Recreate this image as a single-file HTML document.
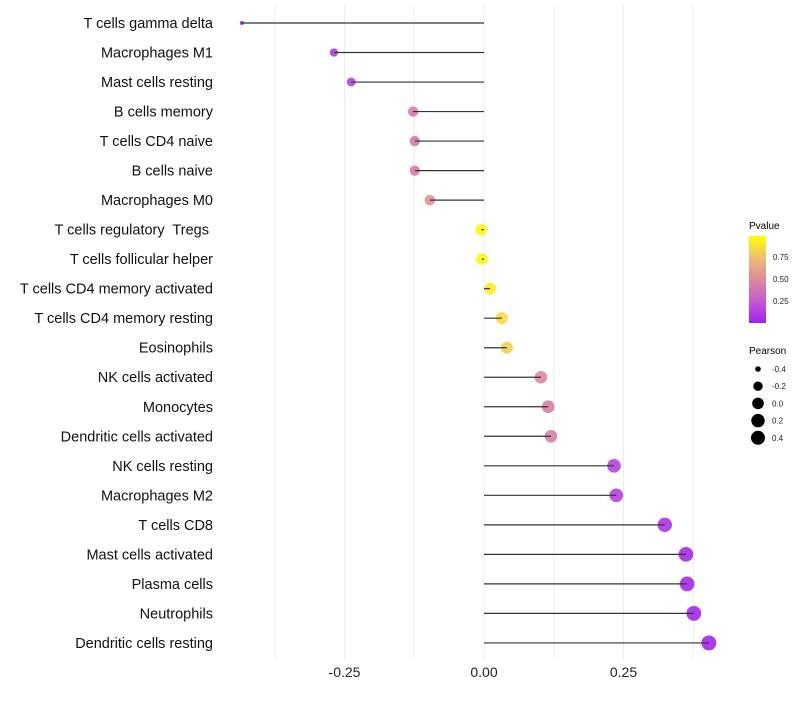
<!DOCTYPE html>
<html><head><meta charset="utf-8"><style>
body{margin:0;background:#fff;font-family:"Liberation Sans",sans-serif}
text{white-space:pre}
</style></head><body>
<svg id="chart" width="800" height="700" xmlns="http://www.w3.org/2000/svg">
<defs><linearGradient id="pg" x1="0" y1="1" x2="0" y2="0">
<stop offset="0" stop-color="#a020f0"/><stop offset="0.25" stop-color="#c65ad0"/><stop offset="0.5" stop-color="#dc8a9c"/><stop offset="0.75" stop-color="#efbd72"/><stop offset="1" stop-color="#ffff00"/>
</linearGradient></defs>
<g id="grid"></g><g id="marks"></g><g id="ylab"></g><g id="xlab"></g>
<g>
<text x="749" y="229" font-size="10" fill="#000">Pvalue</text>
<rect x="749" y="236" width="17" height="87" fill="url(#pg)"/>
<text x="773" y="260" font-size="8" fill="#222">0.75</text>
<text x="773" y="282" font-size="8" fill="#222">0.50</text>
<text x="773" y="304" font-size="8" fill="#222">0.25</text>
</g>
<g id="sizeleg">
<text x="749" y="354" font-size="10" fill="#000">Pearson</text>
</g>
</svg>
<script>
const categories=["T cells gamma delta","Macrophages M1","Mast cells resting","B cells memory","T cells CD4 naive","B cells naive","Macrophages M0","T cells regulatory  Tregs ","T cells follicular helper","T cells CD4 memory activated","T cells CD4 memory resting","Eosinophils","NK cells activated","Monocytes","Dendritic cells activated","NK cells resting","Macrophages M2","T cells CD8","Mast cells activated","Plasma cells","Neutrophils","Dendritic cells resting"];
const pearson=[-0.434,-0.269,-0.238,-0.127,-0.124,-0.124,-0.097,-0.005,-0.004,0.011,0.032,0.041,0.102,0.115,0.120,0.233,0.237,0.324,0.362,0.364,0.376,0.403];
const pvalues=[0.01,0.12,0.14,0.42,0.42,0.42,0.55,0.97,0.98,0.93,0.86,0.82,0.5,0.45,0.43,0.15,0.14,0.08,0.04,0.04,0.03,0.02];
const xTicks=[-0.25,0,0.25];
const xTickLabels=["-0.25","0.00","0.25"];
const sizeLegend=[-0.4,-0.2,0.0,0.2,0.4];
const NS="http://www.w3.org/2000/svg";
const X=v=>484+v*558;
const Y=i=>23+i*29.52;
const R=v=>1.5+6*Math.sqrt(Math.max(0,(v+0.44)/0.85));
function col(p){const st=[[0,[160,32,240]],[0.25,[198,90,208]],[0.5,[220,138,156]],[0.75,[239,189,114]],[1,[255,255,0]]];
for(let k=1;k<st.length;k++){if(p<=st[k][0]){const a=st[k-1],b=st[k],t=(p-a[0])/(b[0]-a[0]);return "rgb("+a[1].map((c,j)=>Math.round(c+(b[1][j]-c)*t)).join(",")+")";}}return "rgb(255,255,0)";}
function mk(tag,at,par){const e=document.createElementNS(NS,tag);for(const k in at)e.setAttribute(k,at[k]);par.appendChild(e);return e;}
const grid=document.getElementById('grid'),marks=document.getElementById('marks'),yl=document.getElementById('ylab'),xl=document.getElementById('xlab');
for(let v=-0.375;v<=0.45;v+=0.125){const g=mk('line',{x1:X(v),x2:X(v),y1:5,y2:660,stroke:'#ebebeb','stroke-width':1},grid);

}
categories.forEach((c,i)=>{
const p=mk('circle',{cx:X(pearson[i]),cy:Y(i),r:R(pearson[i]),fill:col(pvalues[i]),'fill-opacity':0.9},marks);


const l=mk('line',{x1:X(0),x2:X(pearson[i]),y1:Y(i),y2:Y(i),stroke:'#333','stroke-width':1.2},marks);


const t=mk('text',{x:213,y:Y(i)+5,'text-anchor':'end','font-size':14.5,fill:'#111'},yl);t.textContent=c;


});
xTicks.forEach((v,i)=>{const t=mk('text',{x:X(v),y:677,'text-anchor':'middle','font-size':14,fill:'#222'},xl);t.textContent=xTickLabels[i];

});
const sl=document.getElementById('sizeleg');
sizeLegend.forEach((v,i)=>{const y=369+i*17.2;
const c=mk('circle',{cx:758,cy:y,r:Math.min(7,R(v)),fill:'#000'},sl);


const t=mk('text',{x:772,y:y+3,'font-size':8,fill:'#222'},sl);t.textContent=v.toFixed(1);

});
</script>
</body></html>
